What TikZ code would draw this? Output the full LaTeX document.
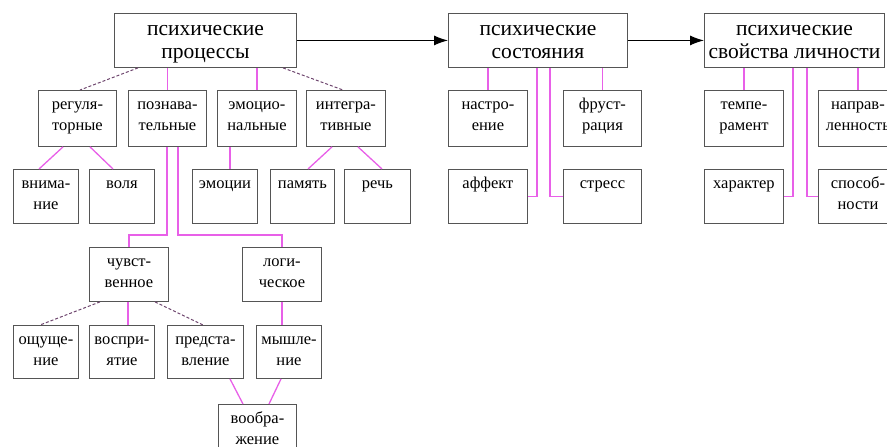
\documentclass[tikz,border=0pt]{standalone}
\usepackage{fontspec}
\setmainfont{Liberation Serif}
\usetikzlibrary{arrows.meta}
\definecolor{linkpink}{RGB}{232,96,232}
\definecolor{boxgray}{RGB}{85,85,85}
\definecolor{dashgray}{RGB}{110,70,110}
\tikzset{
  bigbox/.style={draw=boxgray, line width=0.9pt, anchor=north west, inner sep=0pt, align=center,
    font=\fontsize{21.5}{23}\selectfont, text height=45pt, text depth=9pt, minimum width=#1},
  smallbox/.style={draw=boxgray, line width=0.9pt, anchor=north west, inner sep=0pt, align=center,
    font=\fontsize{16.5}{21.5}\selectfont, text height=40.5pt, text depth=13.5pt, minimum width=#1},
  smallbox/.default=79,
  oneline/.style={text height=19pt, text depth=35pt},
  link/.style={draw=linkpink, line width=1.3pt},
  dlink/.style={draw=dashgray, line width=1pt, dash pattern=on 3pt off 2pt},
  arr/.style={draw=black, line width=1pt, -{Latex[length=14pt,width=10pt]}}
}
\begin{document}
\begin{tikzpicture}[x=1pt,y=-1pt]
\useasboundingbox (0,0) rectangle (887,447);
\clip (0,0) rectangle (887,447);

% Top row
\node[bigbox=182] (proc) at (114,13) {психические\\процессы};
\node[bigbox=179] (sost) at (448,13) {психические\\состояния};
\node[bigbox=180] (svoi) at (704,13) {психические\\свойства личности};
\draw[arr] (proc) -- (sost);
\draw[arr] (sost) -- (svoi);

% Second row
\node[smallbox=78, text depth=15.5pt] (reg) at (38,90) {регуля-\\торные};
\node[smallbox=78, text depth=15.5pt] (pozn) at (128,90) {познава-\\тельные};
\node[smallbox, text depth=15.5pt] (emoc) at (217,90) {эмоцио-\\нальные};
\node[smallbox, text depth=15.5pt] (integ) at (306,90) {интегра-\\тивные};
\node[smallbox, text depth=15.5pt] (nastr) at (448,90) {настро-\\ение};
\node[smallbox=78, text depth=15.5pt] (frust) at (563,90) {фруст-\\рация};
\node[smallbox, text depth=15.5pt] (temp) at (704,90) {темпе-\\рамент};
\node[smallbox, text depth=15.5pt] (napr) at (818,90) {направ-\\ленность};

% Third row
\node[smallbox=65] (vnim) at (13,169) {внима-\\ние};
\node[smallbox=65, oneline] (volya) at (89,169) {воля};
\node[smallbox=65, oneline] (emocii) at (192,169) {эмоции};
\node[smallbox=64, oneline] (pamyat) at (270,169) {память};
\node[smallbox=66, oneline] (rech) at (344,169) {речь};
\node[smallbox, oneline] (affekt) at (448,169) {аффект};
\node[smallbox=78, oneline] (stress) at (563,169) {стресс};
\node[smallbox, oneline] (harakter) at (704,169) {характер};
\node[smallbox] (sposob) at (818,169) {способ-\\ности};

% Cognitive branch
\node[smallbox] (chuvst) at (89,247) {чувст-\\венное};
\node[smallbox] (logich) at (242,247) {логи-\\ческое};
\node[smallbox=65, text depth=12.5pt] (oshch) at (13,325) {ощуще-\\ние};
\node[smallbox=65, text depth=12.5pt] (vospr) at (89,325) {воспри-\\ятие};
\node[smallbox=76, text depth=12.5pt] (predst) at (167,325) {предста-\\вление};
\node[smallbox=65, text depth=12.5pt] (myshl) at (256,325) {мышле-\\ние};
\node[smallbox=78] (voobr) at (218,404) {вообра-\\жение};

% Links from the processes
\draw[dlink] ([xshift=24]proc.south west) -- ([xshift=42]reg.north west);
\draw[link] (pozn.north) -- (pozn.north |- proc.south);
\draw[link] (emoc.north) -- (emoc.north |- proc.south);
\draw[dlink] ([xshift=169]proc.south west) -- ([xshift=37]integ.north west);
\draw[link] ([xshift=25]reg.south west) -- ([xshift=26]vnim.north west);
\draw[link] ([xshift=52]reg.south west) -- ([xshift=24]volya.north west);
\draw[link] ([xshift=13]emoc.south west) -- ([xshift=38]emocii.north west);
\draw[link] ([xshift=26]integ.south west) -- ([xshift=38]pamyat.north west);
\draw[link] ([xshift=52]integ.south west) -- ([xshift=38]rech.north west);
\draw[link] ([xshift=39]pozn.south west) |- ([yshift=12]chuvst.north) -- (chuvst.north);
\draw[link] ([xshift=50]pozn.south west) |- ([yshift=12]logich.north) -- (logich.north);
\draw[dlink] ([xshift=11]chuvst.south west) -- ([xshift=27]oshch.north west);
\draw[link] ([xshift=39]chuvst.south west) -- ([xshift=39]vospr.north west);
\draw[dlink] ([xshift=66]chuvst.south west) -- ([xshift=36]predst.north west);
\draw[link] (logich.south) -- (logich.south |- myshl.north);
\draw[link] ([xshift=63]predst.south west) -- ([xshift=25]voobr.north west);
\draw[link] ([xshift=25]myshl.south west) -- ([xshift=51]voobr.north west);

% Links from the states
\draw[link] (nastr.north) -- (nastr.north |- sost.south);
\draw[link] (frust.north) -- (frust.north |- sost.south);
\draw[link] (affekt.east) -| ([xshift=89]sost.south west);
\draw[link] (stress.west) -| ([xshift=102]sost.south west);

% Links from the personality
\draw[link] (temp.north) -- (temp.north |- svoi.south);
\draw[link] (napr.north) -- (napr.north |- svoi.south);
\draw[link] (harakter.east) -| ([xshift=89]svoi.south west);
\draw[link] (sposob.west) -| ([xshift=103]svoi.south west);
\end{tikzpicture}
\end{document}
